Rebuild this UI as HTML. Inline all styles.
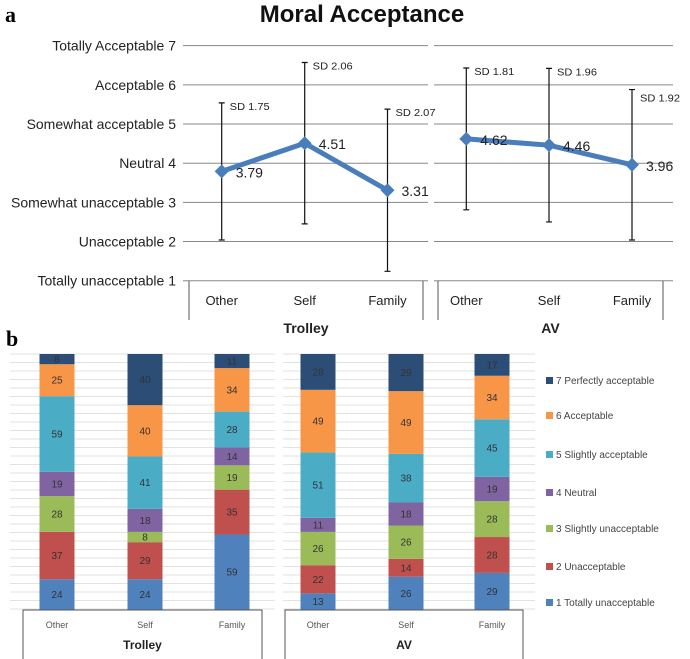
<!DOCTYPE html>
<html><head><meta charset="utf-8"><style>
body{margin:0;background:#fff}
svg{display:block;font-family:"Liberation Sans",sans-serif}
</style></head><body>
<svg id="c" width="690" height="659"></svg>
<script>
const cats=["Other","Self","Family"];
const groups=["Trolley","AV"];
const means=[[3.79,4.51,3.31],[4.62,4.46,3.96]];
const sds=[[1.75,2.06,2.07],[1.81,1.96,1.92]];
const yLabels=["Totally unacceptable 1","Unacceptable 2","Somewhat unacceptable 3","Neutral 4","Somewhat acceptable 5","Acceptable 6","Totally Acceptable 7"];
const legendLabels=["1 Totally unacceptable","2 Unacceptable","3 Slightly unacceptable","4 Neutral","5 Slightly acceptable","6 Acceptable","7 Perfectly acceptable"];
const colors=["#4f81bd","#c0504d","#9bbb59","#8064a2","#4bacc6","#f79646","#2c4d75"];
const counts=[
 [[24,37,28,19,59,25,8],[24,29,8,18,41,40,40],[59,35,19,14,28,34,11]],
 [[13,22,26,11,51,49,28],[26,14,26,18,38,49,29],[29,28,28,19,45,34,17]]
];
const S=document.getElementById('c');
const NS="http://www.w3.org/2000/svg";
function mk(t,a,txt,name){const e=document.createElementNS(NS,t);for(const k in a)e.setAttribute(k,a[k]);if(txt!==undefined)e.textContent=txt;


S.appendChild(e);return e;}
mk('text',{x:5,y:22,'font-size':22,'font-weight':'bold','font-family':'Liberation Serif,serif'},'a','panel-a-label');
mk('text',{x:6,y:346,'font-size':22,'font-weight':'bold','font-family':'Liberation Serif,serif'},'b','panel-b-label');
mk('text',{x:362,y:22,'font-size':24,'font-weight':'bold','text-anchor':'middle',fill:'#111'},'Moral Acceptance','chart-title');
// panel a
const yA=v=>280.7-(v-1)*39.17;
const panels=[{x0:183,x1:428,bx0:189,bx1:423,px:[221.7,304.7,387.5]},{x0:434,x1:673,bx0:438,bx1:663,px:[466.3,549,632]}];
for(let i=1;i<=7;i++){
 mk('text',{x:176,y:yA(i)+5,'font-size':14,'text-anchor':'end',fill:'#222'},yLabels[i-1],'y-tick-label');
 panels.forEach(p=>mk('line',{x1:p.x0,x2:p.x1,y1:yA(i),y2:yA(i),stroke:'#888','stroke-width':1},undefined,'gridline'));
}
panels.forEach((p,g)=>{
 mk('path',{d:`M${p.bx0},281V320M${p.bx1},281V320`,stroke:'#555',fill:'none'},undefined,'axis-box');
 cats.forEach((c,i)=>mk('text',{x:p.px[i],y:305,'font-size':13,'text-anchor':'middle',fill:'#222'},c,'category-label'));
 mk('text',{x:(p.bx0+p.bx1)/2,y:333,'font-size':14,'font-weight':'bold','text-anchor':'middle',fill:'#222'},groups[g],'group-label');
 means[g].forEach((m,i)=>{
  const x=p.px[i],t=yA(m+sds[g][i]),b=yA(m-sds[g][i]);
  mk('path',{d:`M${x},${t}V${b}M${x-3},${t}H${x+3}M${x-3},${b}H${x+3}`,stroke:'#111','stroke-width':1.2,fill:'none'},undefined,'error-bar');
  mk('text',{x:x+8,y:t+(g==1&&i==2?12:7),'font-size':10,fill:'#222',textLength:40,lengthAdjust:'spacingAndGlyphs'},'SD '+sds[g][i].toFixed(2),'sd-label');
 });
 mk('polyline',{points:means[g].map((m,i)=>p.px[i]+','+yA(m)).join(' '),stroke:'#4a7ebb','stroke-width':5,fill:'none'},undefined,'mean-line');
 means[g].forEach((m,i)=>{
  const x=p.px[i],y=yA(m);
  mk('path',{d:`M${x-7},${y}L${x},${y-7}L${x+7},${y}L${x},${y+7}Z`,fill:'#4a7ebb'},undefined,'mean-marker');
  mk('text',{x:x+14,y:y+6,'font-size':14,fill:'#222'},m.toFixed(2),'mean-label');
 });
});
// panel b
const topY=354,botY=610,scale=(botY-topY)/200;
const gb=[{gx0:10,gx1:275,bx0:23,bx1:262,cx:[57,145,232]},{gx0:283,gx1:535,bx0:285,bx1:523,cx:[318,406,492]}];
gb.forEach(p=>{for(let y=topY;y<=botY;y+=8.5)mk('line',{x1:p.gx0,x2:p.gx1,y1:y,y2:y,stroke:'#e2e2e2','stroke-width':1},undefined,'minor-gridline');});
gb.forEach((p,g)=>{
 counts[g].forEach((arr,i)=>{
  let y=botY;
  arr.forEach((v,k)=>{
   const h=v*scale;y-=h;
   mk('rect',{x:p.cx[i]-17.5,y:y,width:35,height:h,fill:colors[k]},undefined,'bar-segment');
   mk('text',{x:p.cx[i],y:y+h/2+3.5,'font-size':10,'text-anchor':'middle',fill:'#333'},v,'segment-value');
  });
 });
 mk('path',{d:`M${p.bx0},659V610H${p.bx1}V659`,stroke:'#555',fill:'none'},undefined,'axis-box');
 cats.forEach((c,i)=>mk('text',{x:p.cx[i],y:628,'font-size':9,'text-anchor':'middle',fill:'#555'},c,'category-label'));
 mk('text',{x:(p.bx0+p.bx1)/2,y:649,'font-size':12,'font-weight':'bold','text-anchor':'middle',fill:'#222'},groups[g],'group-label');
});
const ly=[603,567,529,493,455,416,381];
legendLabels.forEach((l,k)=>{
 mk('rect',{x:546,y:ly[k]-4,width:7,height:7,fill:colors[k]},undefined,'legend-swatch');
 mk('text',{x:556,y:ly[k]+3,'font-size':10,fill:'#444'},l,'legend-entry');
});
</script>
</body></html>
